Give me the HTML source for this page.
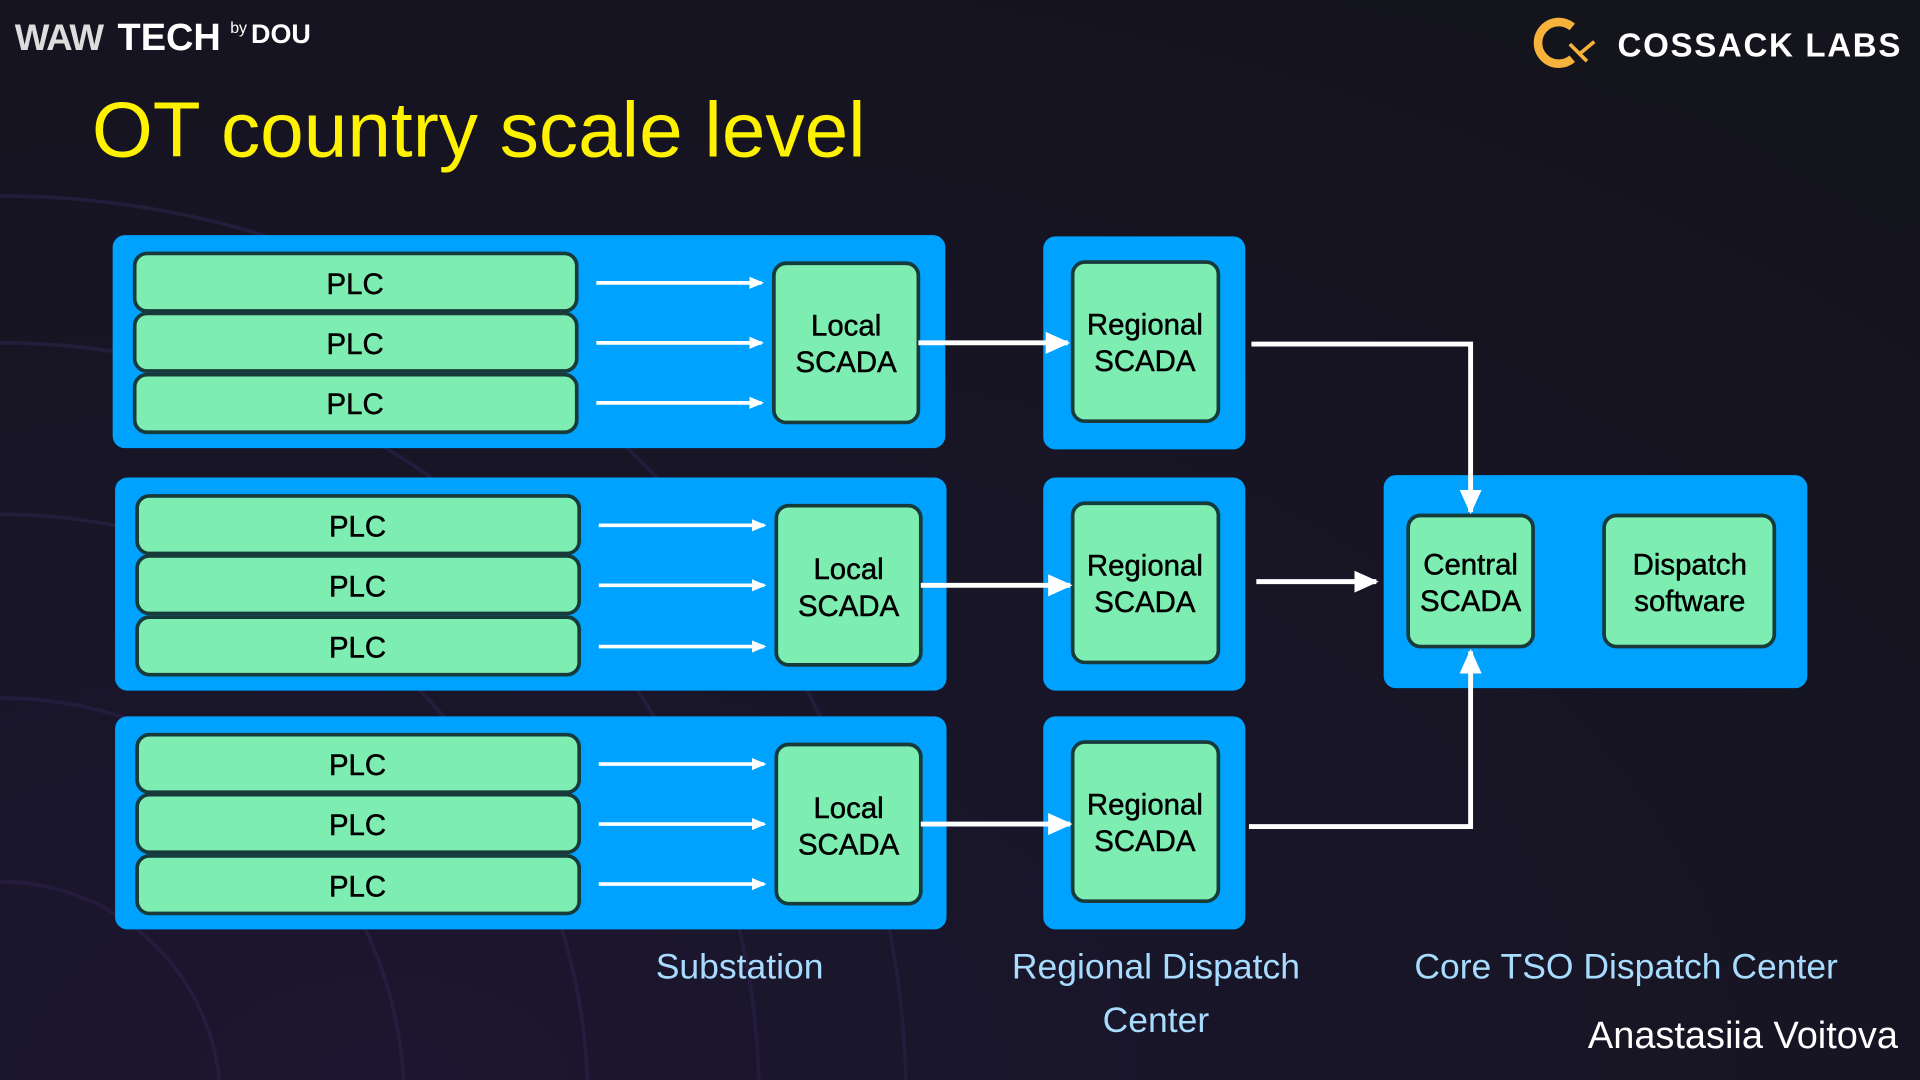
<!DOCTYPE html>
<html><head><meta charset="utf-8"><style>
html,body{margin:0;padding:0;background:#15151e;width:1920px;height:1080px;overflow:hidden;}
svg{display:block}
</style></head><body>
<svg width="1920" height="1080" viewBox="0 0 1568 882" xmlns="http://www.w3.org/2000/svg" font-family="'Liberation Sans', sans-serif">
<defs>
<radialGradient id="bg" cx="0.2" cy="1" r="1.2">
<stop offset="0" stop-color="#1c1630"/><stop offset="1" stop-color="#14141c"/>
</radialGradient>
<marker id="ah" markerWidth="12" markerHeight="10" refX="10" refY="5" orient="auto" markerUnits="userSpaceOnUse"><path d="M0,0 L12,5 L0,10 z" fill="#fff"/></marker>
<marker id="ahb" markerWidth="20" markerHeight="18" refX="18" refY="9" orient="auto" markerUnits="userSpaceOnUse"><path d="M0,0 L20,9 L0,18 z" fill="#fff"/></marker>
</defs>
<rect width="1568" height="882" fill="url(#bg)"/>
<g fill="none" stroke="#2a1f45" stroke-width="3" opacity="0.7">
<circle cx="0" cy="900" r="180"/><circle cx="0" cy="900" r="330"/><circle cx="0" cy="900" r="480"/><circle cx="0" cy="900" r="620"/><circle cx="0" cy="900" r="740"/>
</g>
<text x="12" y="41" font-size="30" font-weight="bold" fill="#ddd" letter-spacing="-1">WAW</text>
<text x="96" y="41" font-size="31" font-weight="bold" fill="#fff">TECH</text>
<text x="188" y="27" font-size="13" fill="#fff">by</text>
<text x="205" y="35" font-size="22" font-weight="bold" fill="#fff">DOU</text>
<path d="M1284,22 A17,17 0 1 0 1284,48" fill="none" stroke="#f6b23a" stroke-width="7"/>
<path d="M1282,36 L1296,50 M1290,44 L1302,34" stroke="#f6b23a" stroke-width="3" fill="none"/>
<text x="1321" y="46" font-size="27" font-weight="bold" fill="#fff" letter-spacing="1" textLength="232">COSSACK LABS</text>
<text x="75" y="128" font-size="64" fill="#fff200">OT country scale level</text>
<rect x="92" y="192" width="680" height="174" rx="10" fill="#00a2ff"/>
<rect x="852" y="193" width="165" height="174" rx="10" fill="#00a2ff"/>
<rect x="94" y="390" width="679" height="174" rx="10" fill="#00a2ff"/>
<rect x="852" y="390" width="165" height="174" rx="10" fill="#00a2ff"/>
<rect x="94" y="585" width="679" height="174" rx="10" fill="#00a2ff"/>
<rect x="852" y="585" width="165" height="174" rx="10" fill="#00a2ff"/>
<g stroke="#173a3a" stroke-width="3" fill="#7eedb2">
<rect x="110" y="207" width="361" height="47" rx="10"/><rect x="110" y="256" width="361" height="47" rx="10"/><rect x="110" y="306" width="361" height="47" rx="10"/>
<rect x="112" y="405" width="361" height="47" rx="10"/><rect x="112" y="454" width="361" height="47" rx="10"/><rect x="112" y="504" width="361" height="47" rx="10"/>
<rect x="112" y="600" width="361" height="47" rx="10"/><rect x="112" y="649" width="361" height="47" rx="10"/><rect x="112" y="699" width="361" height="47" rx="10"/>
<rect x="632" y="215" width="118" height="130" rx="10"/><rect x="634" y="413" width="118" height="130" rx="10"/><rect x="634" y="608" width="118" height="130" rx="10"/>
<rect x="876" y="214" width="119" height="130" rx="10"/><rect x="876" y="411" width="119" height="130" rx="10"/><rect x="876" y="606" width="119" height="130" rx="10"/>
</g>
<rect x="1130" y="388" width="346" height="174" rx="10" fill="#00a2ff"/>
<g stroke="#173a3a" stroke-width="3" fill="#7eedb2">
<rect x="1150" y="421" width="102" height="107" rx="10"/><rect x="1310" y="421" width="139" height="107" rx="10"/>
</g>
<g font-size="24" fill="#000" text-anchor="middle" stroke="#000" stroke-width="0.4">
<text x="290" y="240">PLC</text><text x="290" y="289">PLC</text><text x="290" y="338">PLC</text>
<text x="292" y="438">PLC</text><text x="292" y="487">PLC</text><text x="292" y="537">PLC</text>
<text x="292" y="633">PLC</text><text x="292" y="682">PLC</text><text x="292" y="732">PLC</text>
<text x="691" y="274">Local</text><text x="691" y="304">SCADA</text>
<text x="693" y="473">Local</text><text x="693" y="503">SCADA</text>
<text x="693" y="668">Local</text><text x="693" y="698">SCADA</text>
<text x="935" y="273">Regional</text><text x="935" y="303">SCADA</text>
<text x="935" y="470">Regional</text><text x="935" y="500">SCADA</text>
<text x="935" y="665">Regional</text><text x="935" y="695">SCADA</text>
<text x="1201" y="469">Central</text><text x="1201" y="499">SCADA</text>
<text x="1380" y="469">Dispatch</text><text x="1380" y="499">software</text>
</g>
<g stroke="#fff" stroke-width="3" fill="none">
<line x1="487" y1="231" x2="622" y2="231" marker-end="url(#ah)"/>
<line x1="487" y1="280" x2="622" y2="280" marker-end="url(#ah)"/>
<line x1="487" y1="329" x2="622" y2="329" marker-end="url(#ah)"/>
<line x1="489" y1="429" x2="624" y2="429" marker-end="url(#ah)"/>
<line x1="489" y1="478" x2="624" y2="478" marker-end="url(#ah)"/>
<line x1="489" y1="528" x2="624" y2="528" marker-end="url(#ah)"/>
<line x1="489" y1="624" x2="624" y2="624" marker-end="url(#ah)"/>
<line x1="489" y1="673" x2="624" y2="673" marker-end="url(#ah)"/>
<line x1="489" y1="722" x2="624" y2="722" marker-end="url(#ah)"/>
</g>
<g stroke="#fff" stroke-width="4" fill="none">
<line x1="750" y1="280" x2="872" y2="280" marker-end="url(#ahb)"/>
<line x1="752" y1="478" x2="874" y2="478" marker-end="url(#ahb)"/>
<line x1="752" y1="673" x2="874" y2="673" marker-end="url(#ahb)"/>
<polyline points="1022,281 1201,281 1201,418" marker-end="url(#ahb)"/>
<line x1="1026" y1="475" x2="1124" y2="475" marker-end="url(#ahb)"/>
<polyline points="1020,675 1201,675 1201,532" marker-end="url(#ahb)"/>
</g>
<g font-size="29" fill="#a8dcff" text-anchor="middle">
<text x="604" y="799">Substation</text>
<text x="944" y="799">Regional Dispatch</text>
<text x="944" y="843">Center</text>
<text x="1328" y="799">Core TSO Dispatch Center</text>
</g>
<text x="1550" y="856" font-size="31" fill="#fff" text-anchor="end">Anastasiia Voitova</text>
</svg>
</body></html>
